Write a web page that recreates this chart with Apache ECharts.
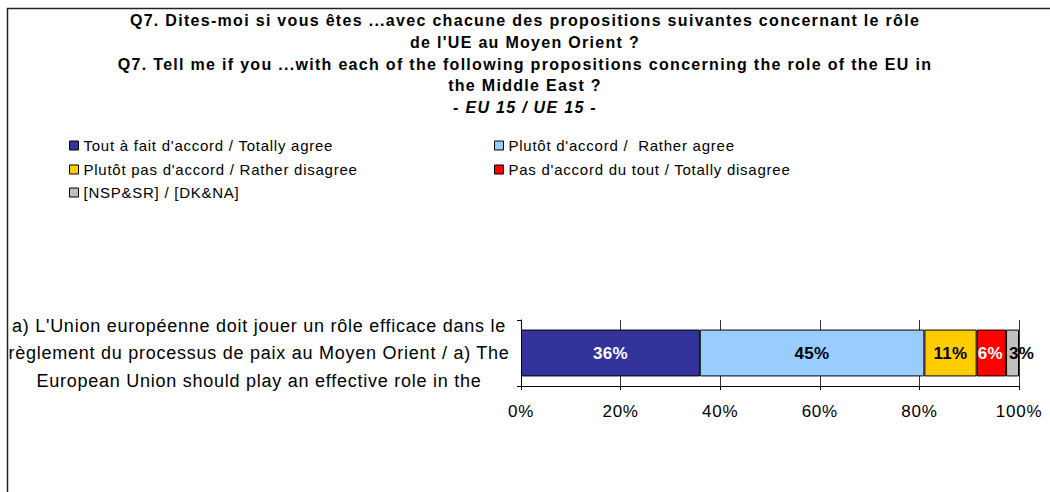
<!DOCTYPE html>
<html><head><meta charset="utf-8">
<script src="https://cdn.jsdelivr.net/npm/echarts@6/dist/echarts.min.js"></script>
<style>html,body{margin:0;padding:0;background:#fff}#c{width:1050px;height:492px}</style>
</head><body><div id="c"></div>
<script>
const categories = ["a) L'Union européenne doit jouer un rôle efficace dans le\nrèglement du processus de paix au Moyen Orient / a) The\nEuropean Union should play an effective role in the"];
const seriesNames = ["Tout à fait d'accord / Totally agree","Plutôt d'accord /  Rather agree","Plutôt pas d'accord / Rather disagree","Pas d'accord du tout / Totally disagree","[NSP&SR] / [DK&NA]"];
const totallyAgree = [35.9];
const ratherAgree = [45.1];
const ratherDisagree = [10.5];
const totallyDisagree = [5.9];
const dkna = [2.6];
const tickLabels = ["0%","20%","40%","60%","80%","100%"];
const colors = ['#333399','#99CCFF','#FFCC00','#FF0000','#C0C0C0'];
const labelColors = ['#fff','#000','#000','#fff','#000'];
const labelOffsets = [[0,0],[0,0],[0,0],[-1,0],[9,0]];
const values = [totallyAgree, ratherAgree, ratherDisagree, totallyDisagree, dkna];
const FONT = '"Liberation Sans", Arial, sans-serif';

const chart = echarts.init(document.getElementById('c'), null, {renderer:'svg'});
const series = values.map((v,i)=>({
  name: seriesNames[i], type:'bar', stack:'s', data:v, barWidth:'71%',
  itemStyle:{color:colors[i], borderColor:'#000', borderWidth:1},
  label:{show:true, position:'inside', offset:labelOffsets[i], formatter:p=>Math.round(p.value)+'%', color:labelColors[i], fontFamily:FONT, fontWeight:'bold', fontSize:17},
  emphasis:{disabled:true}
}));
const legendPos = [[69,138],[494,138],[69,162],[494,162],[69,185]];
const legends = seriesNames.map((n,i)=>({
  data:[n], left:legendPos[i][0], top:legendPos[i][1], itemWidth:9, itemHeight:9, icon:'rect', padding:0,
  itemStyle:{borderColor:'#000', borderWidth:1},
  textStyle:{fontFamily:FONT, fontSize:15, color:'#000'}, selectedMode:false
}));
chart.setOption({
  animation:false,
  title:{left:'center', top:10, padding:0, text:"Q7. Dites-moi si vous êtes ...avec chacune des propositions suivantes concernant le rôle\nde l'UE au Moyen Orient ?\nQ7. Tell me if you ...with each of the following propositions concerning the role of the EU in\nthe Middle East ?\n{i|- EU 15 / UE 15 -}",
    textStyle:{fontFamily:FONT, fontWeight:'bold', fontSize:16, color:'#000', lineHeight:21.7, rich:{i:{fontStyle:'italic', fontWeight:'bold', fontFamily:FONT, fontSize:16, lineHeight:21.7}}}},
  legend: legends,
  graphic:[{type:'rect', shape:{x:7.5,y:8.5,width:1100,height:600}, style:{fill:'none', stroke:'#222', lineWidth:1.5}, silent:true}],
  grid:{left:521, right:31, top:320, height:66},
  xAxis:{type:'value', min:0, max:100, interval:20,
    axisLine:{show:true, lineStyle:{color:'#000'}}, axisTick:{show:true, length:4, lineStyle:{color:'#000'}},
    splitLine:{show:true, lineStyle:{color:'#333'}},
    axisLabel:{formatter:(v)=>tickLabels[v/20], fontFamily:FONT, fontSize:17, color:'#000', margin:17}},
  yAxis:{type:'category', data:categories,
    axisLine:{show:true, lineStyle:{color:'#000'}}, axisTick:{show:true, length:4, lineStyle:{color:'#000'}},
    axisLabel:{align:'center', margin:262, fontFamily:FONT, fontSize:18, lineHeight:27.5, color:'#000'}},
  series: series
});
function spaceText(){
  document.querySelectorAll('#c svg text').forEach(t=>{
    const cs = getComputedStyle(t);
    const bold = parseInt(cs.fontWeight,10) >= 600 || cs.fontWeight === 'bold';
    const size = parseFloat(cs.fontSize);
    t.style.letterSpacing = bold ? (size >= 17 ? '0.3px' : '1.3px') : '0.75px';
  });
}
spaceText();
chart.on('finished', spaceText);
setTimeout(spaceText, 50);
</script></body></html>
